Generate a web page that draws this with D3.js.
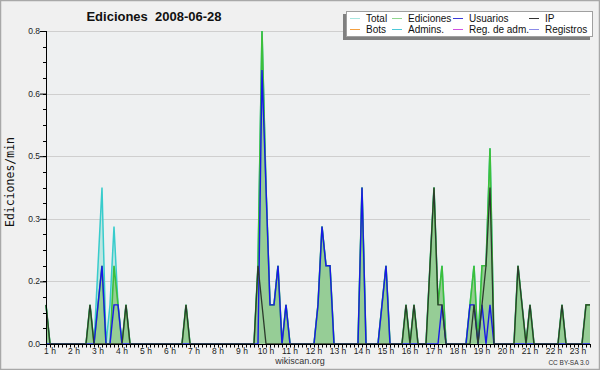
<!DOCTYPE html>
<html>
<head>
<meta charset="utf-8">
<script src="https://cdn.jsdelivr.net/npm/d3@7"></script>
<style>
  body { margin: 0; background: #f0f0f0; }
  svg { display: block; }
</style>
</head>
<body>
<div id="chart"></div>
<script>
// chart texts
var title = "Ediciones  2008-06-28"
var yTitle = "Ediciones/min"
var footer = "wikiscan.org"
var licence = "CC BY-SA 3.0"

// one value every 10 minutes, first point at 0:50, then one row per hour (:00 ... :50)
var firstMinute = 50
var stepMinutes = 10
var hours = [1, 2, 3, 4, 5, 6, 7, 8, 9, 10, 11, 12, 13, 14, 15, 16, 17, 18, 19, 20, 21, 22, 23]

// y ticks (labels are rounded to one decimal, like the original)
var yTicks = [0, 0.16, 0.32, 0.48, 0.64, 0.8]

var total = [0.1,
  0, 0, 0, 0, 0, 0,          // 1 h
  0, 0, 0, 0, 0.1, 0,        // 2 h
  0.2, 0.4, 0, 0.1, 0.3, 0.1,// 3 h
  0, 0.1, 0, 0, 0, 0,        // 4 h
  0, 0, 0, 0, 0, 0,          // 5 h
  0, 0, 0, 0, 0.1, 0,        // 6 h
  0, 0, 0, 0, 0, 0,          // 7 h
  0, 0, 0, 0, 0, 0,          // 8 h
  0, 0, 0, 0, 0.2, 0.8,      // 9 h
  0.4, 0.1, 0.1, 0.2, 0, 0.1,// 10 h
  0, 0, 0, 0, 0, 0,          // 11 h
  0, 0.1, 0.3, 0.2, 0.2, 0,  // 12 h
  0, 0, 0, 0, 0, 0,          // 13 h
  0.4, 0, 0, 0, 0, 0.1,      // 14 h
  0.2, 0, 0, 0, 0, 0.1,      // 15 h
  0, 0.1, 0, 0, 0, 0.2,      // 16 h
  0.4, 0.1, 0.2, 0, 0, 0,    // 17 h
  0, 0, 0, 0.1, 0.2, 0,      // 18 h
  0.2, 0.2, 0.5, 0, 0, 0,    // 19 h
  0, 0, 0, 0.2, 0.1, 0,      // 20 h
  0.1, 0, 0, 0, 0, 0,        // 21 h
  0, 0, 0.1, 0, 0, 0,        // 22 h
  0, 0, 0.1, 0.1]            // 23 h

var ediciones = [0.1,
  0, 0, 0, 0, 0, 0,
  0, 0, 0, 0, 0.1, 0,
  0.1, 0.2, 0, 0, 0.2, 0.1,
  0, 0.1, 0, 0, 0, 0,
  0, 0, 0, 0, 0, 0,
  0, 0, 0, 0, 0.1, 0,
  0, 0, 0, 0, 0, 0,
  0, 0, 0, 0, 0, 0,
  0, 0, 0, 0, 0.2, 0.8,
  0.4, 0.1, 0.1, 0.2, 0, 0.1,
  0, 0, 0, 0, 0, 0,
  0, 0.1, 0.3, 0.2, 0.2, 0,
  0, 0, 0, 0, 0, 0,
  0.4, 0, 0, 0, 0, 0.1,
  0.2, 0, 0, 0, 0, 0.1,
  0, 0.1, 0, 0, 0, 0.2,
  0.4, 0.1, 0.2, 0, 0, 0,
  0, 0, 0, 0.1, 0.2, 0,
  0.2, 0.2, 0.5, 0, 0, 0,
  0, 0, 0, 0.2, 0.1, 0,
  0.1, 0, 0, 0, 0, 0,
  0, 0, 0.1, 0, 0, 0,
  0, 0, 0.1, 0.1]

var usuarios = [0,
  0, 0, 0, 0, 0, 0,
  0, 0, 0, 0, 0, 0,
  0.1, 0.2, 0, 0, 0.1, 0.1,
  0, 0, 0, 0, 0, 0,
  0, 0, 0, 0, 0, 0,
  0, 0, 0, 0, 0, 0,
  0, 0, 0, 0, 0, 0,
  0, 0, 0, 0, 0, 0,
  0, 0, 0, 0, 0, 0.7,
  0.4, 0.1, 0.1, 0.2, 0, 0.1,
  0, 0, 0, 0, 0, 0,
  0, 0.1, 0.3, 0.2, 0.2, 0,
  0, 0, 0, 0, 0, 0,
  0.4, 0, 0, 0, 0, 0.1,
  0.2, 0, 0, 0, 0, 0,
  0, 0, 0, 0, 0, 0,
  0, 0, 0.1, 0, 0, 0,
  0, 0, 0, 0.1, 0.1, 0,
  0.1, 0, 0.1, 0, 0, 0,
  0, 0, 0, 0, 0, 0,
  0, 0, 0, 0, 0, 0,
  0, 0, 0, 0, 0, 0,
  0, 0, 0, 0]

var ip = [0.1,
  0, 0, 0, 0, 0, 0,
  0, 0, 0, 0, 0.1, 0,
  0, 0, 0, 0, 0, 0,
  0, 0.1, 0, 0, 0, 0,
  0, 0, 0, 0, 0, 0,
  0, 0, 0, 0, 0.1, 0,
  0, 0, 0, 0, 0, 0,
  0, 0, 0, 0, 0, 0,
  0, 0, 0, 0, 0.2, 0.1,
  0, 0, 0, 0, 0, 0,
  0, 0, 0, 0, 0, 0,
  0, 0, 0, 0, 0, 0,
  0, 0, 0, 0, 0, 0,
  0, 0, 0, 0, 0, 0,
  0, 0, 0, 0, 0, 0.1,
  0, 0.1, 0, 0, 0, 0.2,
  0.4, 0.1, 0.1, 0, 0, 0,
  0, 0, 0, 0, 0.1, 0,
  0.1, 0.2, 0.4, 0, 0, 0,
  0, 0, 0, 0.2, 0.1, 0,
  0.1, 0, 0, 0, 0, 0,
  0, 0, 0.1, 0, 0, 0,
  0, 0, 0.1, 0.1]

// legend, two rows of four
var legendNames = ["Total", "Ediciones", "Usuarios", "IP", "Bots", "Admins.", "Reg. de adm.", "Registros"]
var legendColors = ["#a8e6e0", "#8fd68f", "#3a3ad8", "#333333", "#f4a040", "#4cc8d8", "#d050e0", "#8a8ae8"]

// ---- drawing ----
var width = 600
var height = 370
var gLeft = 46, gRight = 590, gTop = 31, gBottom = 344

var svg = d3.select('#chart')
            .append('svg')
            .attr('width', width)
            .attr('height', height)

svg.append('rect')
   .attr('x', 0.5).attr('y', 0.5)
   .attr('width', width - 1).attr('height', height - 1)
   .attr('fill', '#f0f0f0')
   .attr('stroke', '#a8a8a8')
   .attr('stroke-width', 1.5)

svg.append('rect')
   .attr('x', gLeft).attr('y', gTop)
   .attr('width', gRight - gLeft).attr('height', gBottom - gTop)
   .attr('fill', '#eef0f1')

var times = total.map((d, i) => firstMinute + i * stepMinutes)

var x = d3.scaleLinear()
          .domain([times[0], times[times.length - 1]])
          .range([gLeft, gRight])
var y = d3.scaleLinear()
          .domain([0, 0.8])
          .range([gBottom, gTop])

// grid
svg.append('g')
   .selectAll('line')
   .data(yTicks.slice(1))
   .enter()
   .append('line')
   .attr('x1', gLeft).attr('x2', gRight)
   .attr('y1', d => Math.round(y(d)) + 0.5).attr('y2', d => Math.round(y(d)) + 0.5)
   .attr('stroke', '#cfcfcf')
   .attr('stroke-width', 1)

var area = d3.area()
             .x((d, i) => x(times[i]))
             .y0(gBottom)
             .y1(d => y(d))
var line = d3.line()
             .x((d, i) => x(times[i]))
             .y(d => y(d))

var plot = svg.append('g')

plot.append('path')
    .attr('d', area(total))
    .attr('fill', '#9ee0d8')
    .attr('fill-opacity', 0.6)
plot.append('path')
    .attr('d', line(total))
    .attr('fill', 'none')
    .attr('stroke', '#38cccc')
    .attr('stroke-width', 1.5)

plot.append('path')
    .attr('d', area(ediciones))
    .attr('fill', '#96cd96')
plot.append('path')
    .attr('d', line(ediciones))
    .attr('fill', 'none')
    .attr('stroke', '#3cbf3c')
    .attr('stroke-width', 1.6)

plot.append('path')
    .attr('d', line(usuarios))
    .attr('fill', 'none')
    .attr('stroke', '#1818e8')
    .attr('stroke-width', 1.4)

plot.append('path')
    .attr('d', line(ip))
    .attr('fill', 'none')
    .attr('stroke', '#2c3a2c')
    .attr('stroke-width', 1.3)

// y axis
var yAxis = d3.axisLeft(y)
              .tickValues(yTicks)
              .tickFormat(d3.format('.1f'))
              .tickSize(6)
var gy = svg.append('g')
            .attr('transform', 'translate(' + gLeft + ',0)')
            .call(yAxis)
gy.select('.domain').remove()
gy.selectAll('text')
  .attr('font-family', 'Liberation Sans, Arial, sans-serif')
  .attr('font-size', 8.5)
  .attr('fill', '#222')
  .attr('x', -6)
  .attr('dy', '0.3em')

var minorY = d3.range(0, 20).map(k => k * 0.04)
svg.append('g')
   .selectAll('line')
   .data(minorY)
   .enter()
   .append('line')
   .attr('x1', gLeft - 3).attr('x2', gLeft)
   .attr('y1', d => Math.round(y(d)) + 0.5).attr('y2', d => Math.round(y(d)) + 0.5)
   .attr('stroke', '#000')

svg.append('line')
   .attr('x1', gLeft + 0.5).attr('x2', gLeft + 0.5)
   .attr('y1', gTop).attr('y2', gBottom + 1)
   .attr('stroke', '#000')

// x axis
svg.append('line')
   .attr('x1', gLeft).attr('x2', gRight + 1)
   .attr('y1', gBottom + 0.5).attr('y2', gBottom + 0.5)
   .attr('stroke', '#000')

svg.append('g')
   .selectAll('line')
   .data(times)
   .enter()
   .append('line')
   .attr('x1', d => Math.round(x(d)) + 0.5).attr('x2', d => Math.round(x(d)) + 0.5)
   .attr('y1', gBottom).attr('y2', gBottom + 3.5)
   .attr('stroke', '#000')

svg.append('g')
   .selectAll('text')
   .data(hours)
   .enter()
   .append('text')
   .attr('x', d => x(d * 60))
   .attr('y', gBottom + 10)
   .attr('text-anchor', 'middle')
   .attr('font-family', 'Liberation Sans, Arial, sans-serif')
   .attr('font-size', 8.5)
   .attr('fill', '#222')
   .text(d => d + ' h')

// titles
svg.append('text')
   .attr('x', 154).attr('y', 20.5)
   .attr('text-anchor', 'middle')
   .attr('font-family', 'Liberation Sans, Arial, sans-serif')
   .attr('font-weight', 'bold')
   .attr('font-size', 13)
   .attr('fill', '#111')
   .style('white-space', 'pre')
   .text(title)

svg.append('text')
   .attr('transform', 'translate(14,182) rotate(-90)')
   .attr('text-anchor', 'middle')
   .attr('font-family', 'DejaVu Sans Mono, monospace')
   .attr('font-size', 11.5)
   .attr('fill', '#111')
   .text(yTitle)

svg.append('text')
   .attr('x', 300).attr('y', 364)
   .attr('text-anchor', 'middle')
   .attr('font-family', 'Liberation Sans, Arial, sans-serif')
   .attr('font-size', 9)
   .attr('fill', '#333')
   .text(footer)

svg.append('text')
   .attr('x', 589).attr('y', 365)
   .attr('text-anchor', 'end')
   .attr('font-family', 'Liberation Sans, Arial, sans-serif')
   .attr('font-size', 6.5)
   .attr('fill', '#333')
   .text(licence)

// legend
var lg = svg.append('g')
lg.append('rect')
  .attr('x', 343).attr('y', 14)
  .attr('width', 247).attr('height', 26)
  .attr('fill', '#808080')
lg.append('rect')
  .attr('x', 346.5).attr('y', 11.5)
  .attr('width', 246).attr('height', 25)
  .attr('fill', '#fff')
  .attr('stroke', '#a0a0a0')

var colX = [350, 392, 453, 529]
var items = lg.selectAll('.item')
              .data(legendNames)
              .enter()
              .append('g')
              .attr('transform', (d, i) => 'translate(' + colX[i % 4] + ',' + (i < 4 ? 18.5 : 29.5) + ')')
items.append('line')
     .attr('x1', 0).attr('x2', 10)
     .attr('stroke', (d, i) => legendColors[i])
     .attr('stroke-width', 1)
items.append('text')
     .attr('x', 16)
     .attr('y', 3.8)
     .attr('font-family', 'Liberation Sans, Arial, sans-serif')
     .attr('font-size', 10)
     .attr('fill', '#111')
     .text(d => d)
</script>
</body>
</html>
